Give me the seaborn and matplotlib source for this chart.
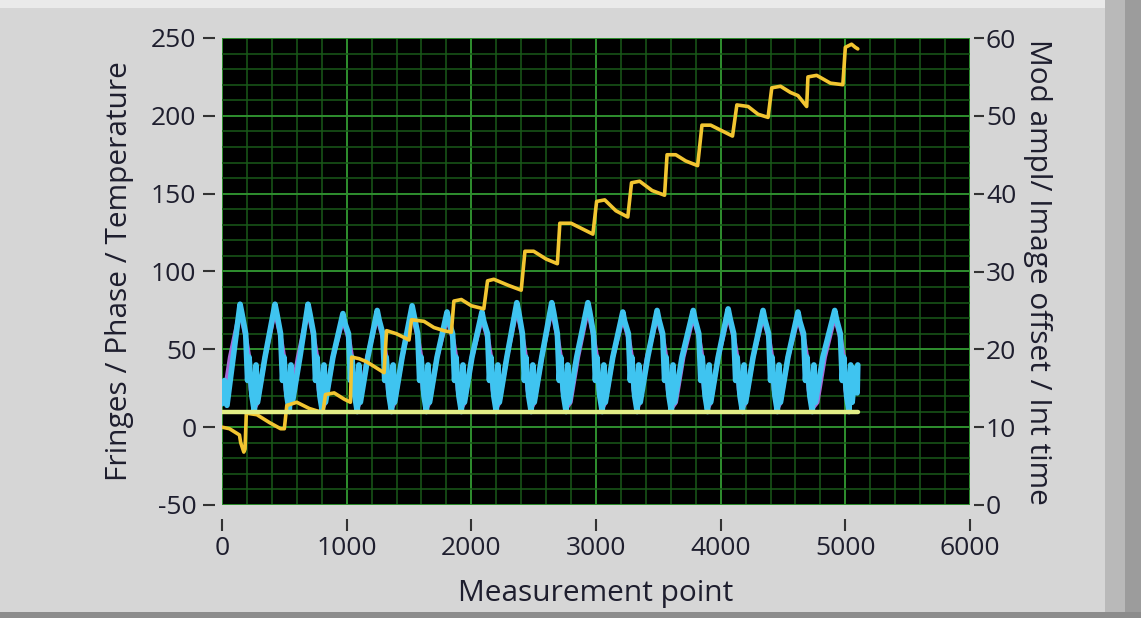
import numpy as np
import pandas as pd
import matplotlib
matplotlib.use("Agg")
import matplotlib.pyplot as plt
from matplotlib.patches import Rectangle
from matplotlib.ticker import MultipleLocator
import seaborn as sns

# ---------------- data ----------------
# Temperature-like staircase (left axis)
stair_x = [0, 60, 140, 150, 175, 185, 195, 280, 380, 470, 500,
           520, 600, 700, 780, 810,
           830, 900, 980, 1030,
           1040, 1100, 1160, 1200, 1260, 1300,
           1320, 1400, 1500,
           1520, 1620, 1700, 1780, 1840,
           1860, 1920, 2000, 2100,
           2130, 2180, 2300, 2400,
           2430, 2500, 2600, 2690,
           2710, 2800, 2900, 2975,
           3005, 3070, 3160, 3255,
           3285, 3350, 3450, 3550,
           3570, 3640, 3720, 3815,
           3850, 3920, 4020, 4095,
           4130, 4220, 4300, 4380,
           4410, 4480, 4560, 4620, 4660, 4690,
           4700, 4770, 4880, 4980,
           5000, 5050, 5080, 5100]
stair_y = [0, -1, -5, -10, -16, -14, 9, 8, 3, -1, -1,
           14, 16, 12, 10, 10,
           21, 22, 18, 16,
           45, 44, 42, 40, 37, 35,
           62, 60, 56,
           69, 68, 64, 62, 61,
           81, 82, 78, 76,
           94, 95, 91, 88,
           113, 113, 108, 105,
           131, 131, 127, 124,
           145, 146, 139, 135,
           157, 158, 152, 149,
           175, 175, 171, 168,
           194, 194, 190, 187,
           207, 206, 201, 199,
           218, 219, 215, 213, 209, 206,
           225, 226, 221, 220,
           244, 246, 244, 243]

# Fringes signal (cyan)
fringe_x = [0, 20, 40,
            145, 160, 190, 205, 217, 240, 260, 273, 285, 345,
            425, 440, 470, 485, 497, 520, 540, 553, 565, 625,
            690, 705, 735, 750, 762, 785, 805, 818, 830, 890,
            970, 985, 1015, 1030, 1042, 1065, 1085, 1098, 1110, 1170,
            1245, 1260, 1290, 1305, 1317, 1340, 1360, 1373, 1385, 1445,
            1525, 1540, 1570, 1585, 1597, 1620, 1640, 1653, 1665, 1725,
            1805, 1820, 1850, 1865, 1877, 1900, 1920, 1933, 1945, 2005,
            2085, 2100, 2130, 2145, 2157, 2180, 2200, 2213, 2225, 2285,
            2365, 2380, 2410, 2425, 2437, 2460, 2480, 2493, 2505, 2565,
            2645, 2660, 2690, 2705, 2717, 2740, 2760, 2773, 2785, 2845,
            2935, 2950, 2980, 2995, 3007, 3030, 3050, 3063, 3075, 3135,
            3215, 3230, 3260, 3275, 3287, 3310, 3330, 3343, 3355, 3415,
            3490, 3505, 3535, 3550, 3562, 3585, 3605, 3618, 3630, 3690,
            3780, 3795, 3825, 3840, 3852, 3875, 3895, 3908, 3920, 3980,
            4060, 4075, 4105, 4120, 4132, 4155, 4175, 4188, 4200, 4260,
            4340, 4355, 4385, 4400, 4412, 4435, 4455, 4468, 4480, 4540,
            4620, 4635, 4665, 4680, 4692, 4715, 4735, 4748, 4760, 4820,
            4915, 4930, 4960, 4975, 4987, 5010, 5030, 5043, 5055, 5080, 5095, 5100]
fringe_y = [15, 30, 14,
            79, 73, 60, 30, 45, 20, 10, 40, 16, 45,
            79, 73, 60, 30, 45, 20, 10, 40, 16, 45,
            79, 73, 60, 30, 45, 20, 10, 40, 16, 45,
            73, 67, 60, 30, 45, 20, 10, 40, 16, 45,
            75, 69, 60, 30, 45, 20, 10, 40, 16, 45,
            78, 72, 60, 30, 45, 20, 10, 40, 16, 45,
            74, 68, 60, 30, 45, 20, 10, 40, 16, 45,
            74, 68, 60, 30, 45, 20, 10, 40, 16, 45,
            80, 74, 60, 30, 45, 20, 10, 40, 16, 45,
            80, 74, 60, 30, 45, 20, 10, 40, 16, 45,
            80, 74, 60, 30, 45, 20, 10, 40, 16, 45,
            74, 68, 60, 30, 45, 20, 10, 40, 16, 45,
            75, 69, 60, 30, 45, 20, 10, 40, 16, 45,
            75, 69, 60, 30, 45, 20, 10, 40, 16, 45,
            76, 70, 60, 30, 45, 20, 10, 40, 16, 45,
            75, 69, 60, 30, 45, 20, 10, 40, 16, 45,
            74, 68, 60, 30, 45, 20, 10, 40, 16, 45,
            75, 69, 60, 30, 45, 20, 10, 40, 16, 38, 22, 40]

# Phase signal (purple, mostly hidden under the cyan trace)
phase_x = [0, 10, 65, 145, 195, 215, 232, 260,
           285, 345, 425, 475, 495, 512, 540,
           550, 610, 690, 740, 760, 777, 805,
           830, 890, 970, 1020, 1040, 1057, 1085,
           1105, 1165, 1245, 1295, 1315, 1332, 1360,
           1385, 1445, 1525, 1575, 1595, 1612, 1640,
           1665, 1725, 1805, 1855, 1875, 1892, 1920,
           1945, 2005, 2085, 2135, 2155, 2172, 2200,
           2225, 2285, 2365, 2415, 2435, 2452, 2480,
           2505, 2565, 2645, 2695, 2715, 2732, 2760,
           2795, 2855, 2935, 2985, 3005, 3022, 3050,
           3075, 3135, 3215, 3265, 3285, 3302, 3330,
           3350, 3410, 3490, 3540, 3560, 3577, 3605,
           3640, 3700, 3780, 3830, 3850, 3867, 3895,
           3920, 3980, 4060, 4110, 4130, 4147, 4175,
           4200, 4260, 4340, 4390, 4410, 4427, 4455,
           4480, 4540, 4620, 4670, 4690, 4707, 4735,
           4775, 4835, 4915, 4965, 4985, 5002, 5030, 5060, 5100]
phase_y = [24, 16, 45, 75, 56, 46, 24, 12,
           16, 45, 75, 56, 46, 24, 12,
           16, 45, 75, 56, 46, 24, 12,
           16, 45, 69, 56, 46, 24, 12,
           16, 45, 71, 56, 46, 24, 12,
           16, 45, 74, 56, 46, 24, 12,
           16, 45, 70, 56, 46, 24, 12,
           16, 45, 70, 56, 46, 24, 12,
           16, 45, 76, 56, 46, 24, 12,
           16, 45, 76, 56, 46, 24, 12,
           16, 45, 76, 56, 46, 24, 12,
           16, 45, 70, 56, 46, 24, 12,
           16, 45, 71, 56, 46, 24, 12,
           16, 45, 71, 56, 46, 24, 12,
           16, 45, 72, 56, 46, 24, 12,
           16, 45, 71, 56, 46, 24, 12,
           16, 45, 70, 56, 46, 24, 12,
           16, 45, 71, 56, 46, 24, 12, 30, 28]

# Integration time (right axis, constant)
int_x = [0, 5100]
int_y = [12, 12]

x_ticks = [0, 1000, 2000, 3000, 4000, 5000, 6000]
left_ticks = [-50, 0, 50, 100, 150, 200, 250]
right_ticks = [0, 10, 20, 30, 40, 50, 60]

# ---------------- styling ----------------
sns.set_style("dark")
plt.rcParams["font.family"] = ["Open Sans", "DejaVu Sans"]
txt = "#1E1E2E"
bg = "#D6D6D6"

fig = plt.figure(figsize=(11.41, 6.18), dpi=100, facecolor=bg)
ax = fig.add_axes([222 / 1141, 1 - 505 / 618, (970 - 222) / 1141, (505 - 38) / 618])
ax.set_facecolor("black")

# frame decorations
fig.patches.append(Rectangle((0, 1 - 8 / 618), 1, 8 / 618, transform=fig.transFigure,
                             facecolor="#EAEAEA", edgecolor="none", zorder=0))
fig.patches.append(Rectangle((1105 / 1141, 0), 20 / 1141, 1, transform=fig.transFigure,
                             facecolor="#B9B9B9", edgecolor="none", zorder=0))
fig.patches.append(Rectangle((1125 / 1141, 0), 16 / 1141, 1, transform=fig.transFigure,
                             facecolor="#9C9C9C", edgecolor="none", zorder=0))
fig.patches.append(Rectangle((0, 0), 1, 6 / 618, transform=fig.transFigure,
                             facecolor="#8C8C8C", edgecolor="none", zorder=0))

# grid
ax.xaxis.set_major_locator(MultipleLocator(1000))
ax.xaxis.set_minor_locator(MultipleLocator(200))
ax.yaxis.set_major_locator(MultipleLocator(50))
ax.yaxis.set_minor_locator(MultipleLocator(10))
ax.grid(which="major", color="#2F8F2F", linewidth=1.4)
ax.grid(which="minor", color="#195A19", linewidth=1.1)
ax.set_axisbelow(True)

# series
sns.lineplot(x=phase_x, y=phase_y, ax=ax, color="#A76AD6", linewidth=3.2,
             estimator=None, sort=False)
sns.lineplot(x=fringe_x, y=fringe_y, ax=ax, color="#3FC4F0", linewidth=4.0,
             estimator=None, sort=False)
sns.lineplot(x=stair_x, y=stair_y, ax=ax, color="#F2C531", linewidth=2.6,
             estimator=None, sort=False)

ax.set_xlim(0, 6000)
ax.set_ylim(-50, 250)
ax.set_xticks(x_ticks)
ax.set_yticks(left_ticks)
ax.set_xticklabels([str(v) for v in x_ticks])
ax.set_yticklabels([str(v) for v in left_ticks])

for s in ax.spines.values():
    s.set_visible(False)
ax.spines["left"].set_position(("outward", 5))
ax.spines["bottom"].set_position(("outward", 10))

ax.tick_params(axis="y", which="major", direction="out", length=8.5, width=1.5,
               color="#333333", labelsize=19, labelcolor=txt, pad=5, left=True)
ax.tick_params(axis="x", which="major", direction="out", length=8.5, width=1.5,
               color="#333333", labelsize=19, labelcolor=txt, pad=4, bottom=True)
ax.tick_params(which="minor", length=0)

ax.set_xlabel("Measurement point", fontsize=21.5, color=txt, labelpad=13)
ax.set_ylabel("Fringes / Phase / Temperature", fontsize=21.5, color=txt, labelpad=12)

# right axis
ax2 = ax.twinx()
ax2.set_ylim(0, 60)
ax2.set_yticks(right_ticks)
ax2.set_yticklabels([str(v) for v in right_ticks])
ax2.grid(False)
for s in ax2.spines.values():
    s.set_visible(False)
ax2.spines["right"].set_position(("outward", 3))
ax2.tick_params(axis="y", which="major", direction="out", length=7.5, width=1.5,
                color="#333333", labelsize=19, labelcolor=txt, pad=1, right=True)
ax2.tick_params(which="minor", length=0)
sns.lineplot(x=int_x, y=int_y, ax=ax2, color="#E3EE86", linewidth=3.2,
             estimator=None, sort=False)
ax2.set_ylabel("Mod ampl/ Image offset / Int time", fontsize=21.5, color=txt,
               rotation=270, labelpad=26)
ax2.set_xlim(0, 6000)

fig.savefig("out.png", dpi=100, facecolor=bg)
